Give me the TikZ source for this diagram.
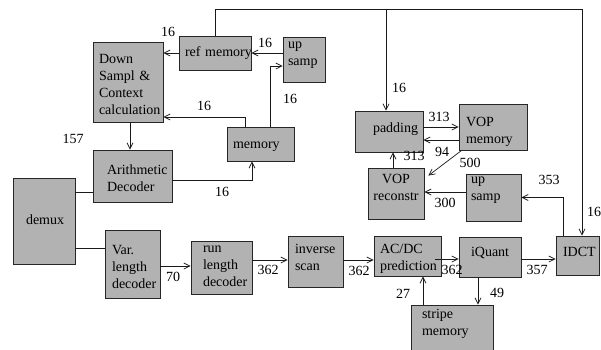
\documentclass[tikz,border=0pt]{standalone}
\usepackage{fontspec}
\setmainfont{Liberation Serif}
\newfontfamily\tnr{Liberation Serif}
\usetikzlibrary{arrows.meta,calc}
\newcommand\tl[2]{\raisebox{#1pt}[\height][\depth]{\begin{tabular}{@{}l@{}}#2\end{tabular}}}
\newcommand\tcn[2]{\raisebox{#1pt}[\height][\depth]{\begin{tabular}{@{}c@{}}#2\end{tabular}}}
\begin{document}
\begin{tikzpicture}[x=1pt,y=-1pt,
  bx/.style n args={4}{draw=black!85, fill=gray!60, line width=0.9pt, rectangle,
    minimum width=#1pt, minimum height=#2pt, inner xsep=#3pt, inner ysep=1pt,
    text width=#4pt, align=left, font=\tnr\fontsize{14}{17}\selectfont},
  lbl/.style={inner sep=0pt, font=\tnr\fontsize{14}{17}\selectfont},
  ln/.style={line width=0.7pt, draw=black!90},
  arr/.style={ln, -{Straight Barb[length=6pt,width=6pt]}}]
\useasboundingbox (0,0) rectangle (601,349);
% boxes
\node[bx={70}{80}{6}{58}] (ds) at (128,82) {\tl{-4}{Down\\Sampl \&\\Context\\calculation}};
\node[bx={72}{34}{6}{60}] (ref) at (215,53) {\tl{0}{ref memory}};
\node[bx={42}{45}{5}{32}] (ups1) at (304,59.5) {\tl{6}{up\\samp}};
\node[bx={67}{34}{6}{55}] (mem) at (260.5,144) {\tl{-1}{memory}};
\node[bx={79}{52}{14}{51}] (ari) at (132.5,176) {\tl{-3.5}{Arithmetic\\Decoder}};
\node[bx={62}{86}{13}{36}] (demux) at (44,221) {\tl{0}{demux}};
\node[bx={55}{68}{7}{41}] (var) at (132.5,264) {\tl{-4}{Var.\\length\\decoder}};
\node[bx={61}{51}{12}{37}] (rld) at (221.5,267.5) {\tl{1}{run\\length\\decoder}};
\node[bx={55}{51}{7}{41}] (inv) at (315.5,261.5) {\tl{2.5}{inverse\\scan}};
\node[bx={67}{40}{6}{55}] (acdc) at (407.5,256) {\tl{-2.5}{AC/DC\\prediction}};
\node[bx={62}{40}{12}{38}] (iq) at (490,257) {\tl{4}{iQuant}};
\node[bx={43}{39}{7}{29}] (idct) at (577.5,255.5) {\tl{2.5}{IDCT}};
\node[bx={82}{46}{11}{60}] (stripe) at (452,328) {\tl{4}{stripe\\memory}};
\node[bx={68}{41}{18}{32}] (pad) at (389,131.5) {\tl{2.5}{padding}};
\node[bx={68}{46}{7}{54}] (vopm) at (493,127) {\tl{-4.5}{VOP\\memory}};
\node[bx={56}{51}{5}{46}, align=center] (vopr) at (396,193.5) {\tcn{5}{VOP\\reconstr}};
\node[bx={55}{47}{5}{45}] (ups2) at (493.5,197.5) {\tl{8.5}{up\\samp}};
% helper coordinates
\coordinate (topy) at (0,9);
\coordinate (m1) at ($(mem.north)+(9.5,0)$);
\coordinate (u1) at ($(ups1.west)+(0,6.5)$);
\coordinate (m2) at ($(mem.north)+(-15.5,0)$);
\coordinate (d1) at ($(ds.east)+(0,35)$);
\coordinate (d2) at ($(ds.south)+(2,0)$);
\coordinate (a2) at ($(ari.east)+(0,4)$);
\coordinate (m3) at ($(mem.south)+(-8.5,0)$);
\coordinate (a1) at ($(ari.west)+(0,16)$);
\coordinate (v1) at ($(var.west)+(0,-16)$);
\coordinate (v2) at ($(var.east)+(0,2)$);
\coordinate (r1) at ($(rld.east)+(0,-7.5)$);
\coordinate (i1) at ($(inv.east)+(0,-1.5)$);
\coordinate (c1) at ($(acdc.east)+(-6,3)$);
\coordinate (q1) at ($(iq.east)+(0,2)$);
\coordinate (q2) at ($(iq.south)+(-12,0)$);
\coordinate (c2) at ($(acdc.south)+(15.5,0)$);
\coordinate (t1) at ($(idct.north)+(-14.5,0)$);
\coordinate (u2) at ($(ups2.west)+(0,-5.5)$);
\coordinate (vm1) at ($(vopm.south west)+(3,0)$);
\coordinate (vr1) at ($(vopr.north east)+(4,8)$);
\coordinate (p1) at ($(pad.east)+(0,-4.5)$);
\coordinate (p2) at ($(vopm.west)+(0,13)$);
\coordinate (r2) at ($(vopr.north)+(-3,0)$);
\coordinate (t3) at ($(idct.north)+(4.5,0)$);
\coordinate (p3) at ($(pad.north)+(-3,0)$);
% connectors
\draw[arr] (ref.west) -- (ref.west -| ds.east);
\draw[arr] (ref.east -| ups1.west) -- (ref.east);
\draw[arr] (m1) |- (u1);
\draw[arr] (m2) |- (d1);
\draw[arr] (d2) -- (d2 |- ari.north);
\draw[arr] (a2) -| (m3);
\draw[ln] (demux.east |- a1) -- (a1);
\draw[ln] (demux.east |- v1) -- (v1);
\draw[arr] (v2) -- (v2 -| rld.west);
\draw[arr] (r1) -- (r1 -| inv.west);
\draw[arr] (i1) -- (i1 -| acdc.west);
\draw[arr] (c1) -- (c1 -| iq.west);
\draw[arr] (q1) -- (q1 -| idct.west);
\draw[arr] (q2) -- (q2 |- stripe.north);
\draw[arr] (c2 |- stripe.north) -- (c2);
\draw[arr] (t1) |- (ups2.east);
\draw[arr] (u2) -- (u2 -| vopr.east);
\draw[arr] (vm1) -- (vr1);
\draw[arr] (p1) -- (p1 -| vopm.west);
\draw[arr] (p2) -- (p2 -| pad.east);
\draw[arr] (r2) -- (r2 |- pad.south);
\draw[arr] (ref.north) |- (t3 |- topy) -- (t3);
\draw[arr] (p3 |- topy) -- (p3);
% labels
\node[lbl] (l1) at (168,32) {16};
\node[lbl] (l2) at (265,43) {16};
\node[lbl] (l3) at (290,99) {16};
\node[lbl] (l4) at (204,106) {16};
\node[lbl] (l5) at (73,139) {157};
\node[lbl] (l6) at (222,192) {16};
\node[lbl] (l7) at (173,277) {70};
\node[lbl] (l8) at (268,270) {362};
\node[lbl] (l9) at (359,271) {362};
\node[lbl] (l10) at (452,270) {362};
\node[lbl] (l11) at (537,270) {357};
\node[lbl] (l12) at (497,293) {49};
\node[lbl] (l13) at (403,294) {27};
\node[lbl] (l14) at (549,180) {353};
\node[lbl] (l15) at (594,212) {16};
\node[lbl] (l16) at (445,203) {300};
\node[lbl] (l17) at (470,163) {500};
\node[lbl] (l18) at (439,117) {313};
\node[lbl] (l19) at (442,152) {94};
\node[lbl] (l20) at (414,156) {313};
\node[lbl] (l21) at (399,88) {16};
\end{tikzpicture}
\end{document}
